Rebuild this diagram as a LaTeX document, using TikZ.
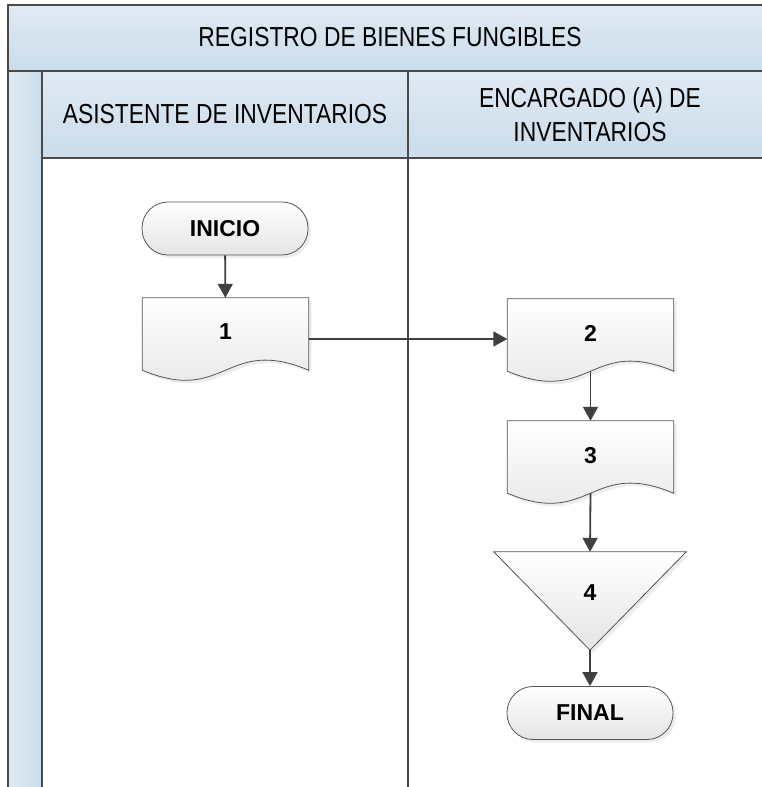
\documentclass[tikz,border=0pt]{standalone}
\usepackage{fontspec}
\setmainfont{Liberation Sans}
\newfontfamily\hdrfont[FakeStretch=0.83]{Liberation Sans}
\usetikzlibrary{arrows.meta,shadows,calc}
\definecolor{hdrA}{HTML}{E0EAF4}
\definecolor{hdrB}{HTML}{CADCEA}
\definecolor{lineC}{HTML}{404040}
\definecolor{frameC}{HTML}{4A4A4A}
\definecolor{shpB}{HTML}{555555}
\definecolor{shpF}{HTML}{E4E4E4}
\pgfdeclarelayer{background}
\pgfsetlayers{background,main}
\tikzset{
  framel/.style={draw=frameC, line width=2pt},
  lanel/.style={draw=frameC, line width=1.6pt},
  hdrtext/.style={font=\hdrfont\fontsize{27.5}{34}\selectfont, align=center, inner sep=0pt},
  lbl/.style={font=\bfseries\fontsize{23}{27}\selectfont, inner sep=0pt},
  shp/.style={draw=shpB, line width=0.8pt, top color=white, bottom color=shpF,
    drop shadow={shadow xshift=3pt, shadow yshift=-3pt, fill=black!14}},
  term/.style={shp, lbl, rounded corners=26pt, minimum width=166pt, minimum height=53pt},
  docbox/.style={lbl, minimum width=166pt, minimum height=72pt},
  tribox/.style={lbl, minimum width=192pt, minimum height=98pt},
  conn/.style={draw=lineC, line width=1.8pt, -{Triangle[length=14pt,width=15pt]}}
}
\begin{document}
\begin{tikzpicture}[x=1pt,y=-1pt]
\useasboundingbox (0,0) rectangle (762,787);
\clip (0,0) rectangle (762,787);
% headers
\fill[top color=hdrA, bottom color=hdrB] (8,5) rectangle (800,71);
\fill[top color=hdrA, bottom color=hdrB] (42,71) rectangle (800,158);
\fill[left color=hdrA, right color=hdrB] (8,71) rectangle (42,800);
\draw[framel] (8,800) -- (8,5) -- (800,5);
\draw[framel] (8,71) -- (800,71);
\draw[lanel] (42,71) -- (42,800);
\draw[lanel] (42,158) -- (800,158);
\draw[lanel] (408,71) -- (408,800);
\node[hdrtext] (title) at (390,37) {REGISTRO DE BIENES FUNGIBLES};
\node[hdrtext] (lane1) at (225,114) {ASISTENTE DE INVENTARIOS};
\node[hdrtext] (lane2) at (590,114.5) {ENCARGADO (A) DE\\INVENTARIOS};
% nodes
\node[term] (start) at (225,228.5) {INICIO};
\node[docbox] (d1) at (225.5,334) {\raisebox{4pt}{1}};
\node[docbox] (d2) at (590.5,335) {\raisebox{4pt}{2}};
\node[docbox] (d3) at (590.5,457) {\raisebox{4pt}{3}};
\node[tribox] (t4) at (590,601) {\raisebox{16pt}{4}};
\node[term] (fin) at (590,713) {FINAL};
\begin{pgfonlayer}{background}
\foreach \n in {d1,d2,d3}{
  \path[shp] (\n.north west) -- (\n.north east) -- (\n.south east)
    .. controls ([yshift=35pt]\n.south) and ([yshift=-35pt]\n.south) .. (\n.south west) -- cycle;
}
\path[shp] (t4.north west) -- (t4.north east) -- (t4.south) -- cycle;
\end{pgfonlayer}
% connectors
\draw[conn] (start) -- (d1);
\draw[conn] ([yshift=-5pt]d1.east) -- ([yshift=-4pt]d2.west);
\draw[conn] (d2.south) -- (d3.north);
\draw[conn] (d3.south) -- (t4.north);
\draw[conn] (t4.south) -- (fin.north);
\end{tikzpicture}
\end{document}
